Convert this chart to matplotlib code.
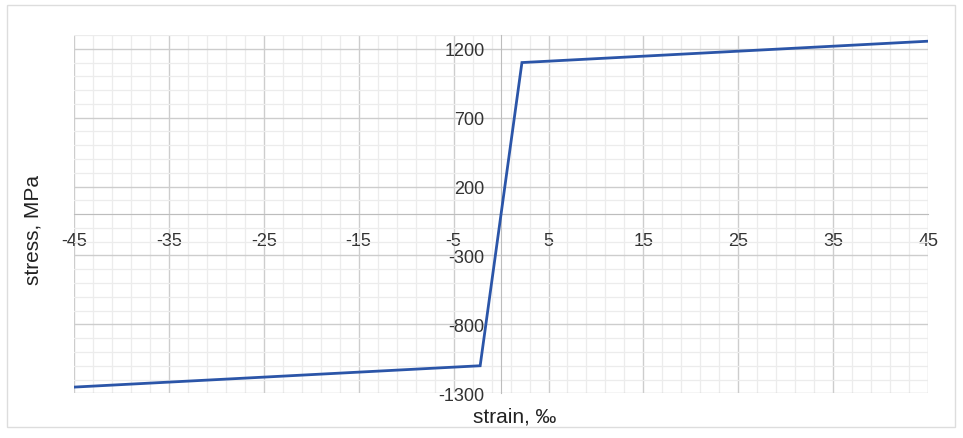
import numpy as np
import matplotlib
matplotlib.use("Agg")
from matplotlib import pyplot as plt
from matplotlib import patches
from matplotlib.ticker import MultipleLocator, FixedLocator

plt.rcParams['font.family'] = ['Liberation Sans', 'DejaVu Sans']
plt.rcParams['axes.unicode_minus'] = False

# bilinear stress-strain curve (strain in per mille, stress in MPa)
strain = [-45, -2.2, 2.2, 45]
stress = [-1255, -1100, 1100, 1255]

x_ticks = [-45, -35, -25, -15, -5, 5, 15, 25, 35, 45]
y_ticks = [-1300, -800, -300, 200, 700, 1200]

fig = plt.figure(figsize=(9.63, 4.39), dpi=100)
ax = fig.add_axes([0.0768, 0.1018, 0.887, 0.8162])

# outer frame around the whole chart
fig.patches.append(patches.Rectangle((0.007, 0.025), 0.985, 0.962, transform=fig.transFigure,
                                     fill=False, edgecolor='#dddddd', linewidth=1.0))

ax.set_xlim(-45, 45)
ax.set_ylim(-1300, 1300)
ax.xaxis.set_major_locator(FixedLocator(x_ticks))
ax.yaxis.set_major_locator(FixedLocator(y_ticks))
ax.xaxis.set_minor_locator(FixedLocator(np.arange(-45, 46, 2)))
ax.yaxis.set_minor_locator(MultipleLocator(100))

ax.grid(which='minor', color='#ececec', linewidth=0.9)
ax.grid(which='major', color='#cdcdcd', linewidth=1.0)
ax.set_axisbelow(True)

for s in ['top', 'right']:
    ax.spines[s].set_visible(False)
ax.spines['left'].set_position(('data', 0))
ax.spines['bottom'].set_position(('data', 0))
ax.spines['left'].set_color('#bdbdbd')
ax.spines['bottom'].set_color('#bdbdbd')

ax.tick_params(which='both', length=0)
ax.tick_params(axis='x', pad=12.5, labelsize=13, labelcolor='#333333')
ax.tick_params(axis='y', pad=12, labelsize=13, labelcolor='#333333')

ax.plot(strain, stress, color='#2b55a8', linewidth=2.0, solid_joinstyle='miter', zorder=5)

fig.text(0.534, 0.05, 'strain, ‰', ha='center', va='center', fontsize=15, color='#222222')
fig.text(0.034, 0.475, 'stress, MPa', ha='center', va='center', rotation=90, fontsize=15, color='#222222')

fig.savefig('out.png', dpi=100)
